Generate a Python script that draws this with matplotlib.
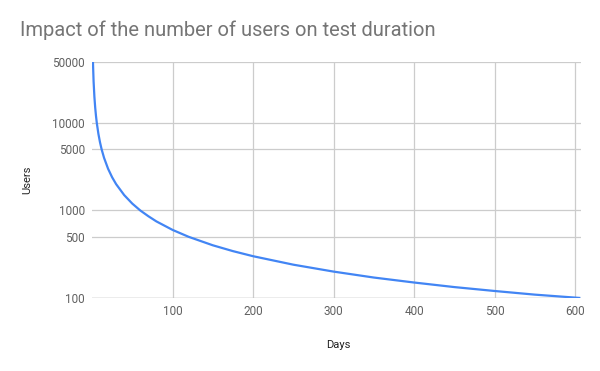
import matplotlib
matplotlib.use("Agg")
import matplotlib.pyplot as plt
from matplotlib.ticker import FixedLocator, NullLocator

plt.rcParams['font.family'] = ['Roboto', 'DejaVu Sans']

# values
days = [1.2, 2, 3, 4, 5, 6, 8, 10, 12, 15, 20, 25, 30, 40, 50, 60, 70, 80,
        100, 120, 150, 175, 200, 250, 300, 350, 400, 450, 500, 550, 605]
users = [50000, 30000, 20000, 15000, 12000, 10000, 7500, 6000, 5000, 4000,
         3000, 2400, 2000, 1500, 1200, 1000, 860, 750, 600, 500, 400, 343,
         300, 240, 200, 171, 150, 133, 120, 109, 100]

y_ticks = [100, 500, 1000, 5000, 10000, 50000]
x_ticks = [100, 200, 300, 400, 500, 600]

fig = plt.figure(figsize=(6, 3.71), dpi=100)
ax = fig.add_axes([0.1533, 0.197, 0.8147, 0.636])

ax.plot(days, users, color='#4285f4', linewidth=1.6, solid_joinstyle='round', zorder=3)

ax.set_yscale('log')
ax.set_ylim(100, 50000)
ax.set_xlim(0, 607)
ax.yaxis.set_major_locator(FixedLocator(y_ticks))
ax.yaxis.set_minor_locator(NullLocator())
ax.set_yticklabels([str(v) for v in y_ticks])
ax.set_xticks(x_ticks)
ax.set_xticklabels([str(v) for v in x_ticks])

ax.grid(True, color='#cccccc', linewidth=0.9)
for s in ax.spines.values():
    s.set_visible(False)
ax.axhline(100, color='#bbbbbb', linewidth=1.0, zorder=2)
ax.tick_params(length=0, labelsize=8.5, labelcolor='#616161', pad=5)

ax.set_xlabel('Days', fontsize=8, color='#222222', va='center')
ax.set_ylabel('Users', fontsize=8, color='#222222', va='center')
ax.xaxis.set_label_coords((338 - 92) / 489, (298 - 345) / 236)
ax.yaxis.set_label_coords((27 - 92) / 489, 0.5)

fig.text(20 / 600, 1 - 30 / 371, 'Impact of the number of users on test duration',
         fontsize=14.5, color='#757575', va='center', ha='left')

fig.savefig('out.png', dpi=100)
